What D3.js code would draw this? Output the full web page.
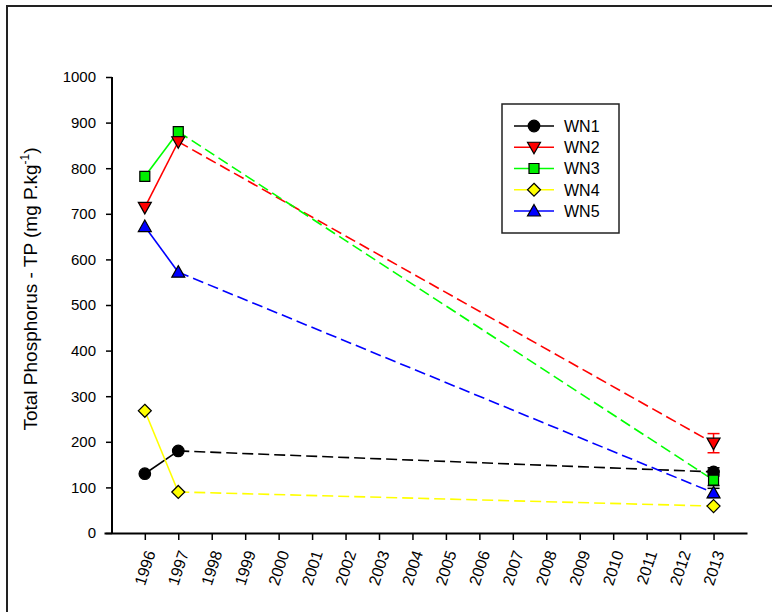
<!DOCTYPE html>
<html>
<head>
<meta charset="utf-8">
<script src="https://cdn.jsdelivr.net/npm/d3@7"></script>
<style>
  html, body { margin: 0; padding: 0; background: #fff; }
  svg { display: block; font-family: Arial, "Liberation Sans", sans-serif; }
</style>
</head>
<body>
<div id="chart"></div>
<script>
// values
const years = [1996, 1997, 2013];
const yearTicks = d3.range(1996, 2014);
const yTicks = [0, 100, 200, 300, 400, 500, 600, 700, 800, 900, 1000];

const seriesNames = ["WN1", "WN2", "WN3", "WN4", "WN5"];
const wn1 = [130, 180, 134];
const wn2 = [714, 858, 197];
const wn3 = [782, 880, 116];
const wn4 = [268, 90, 59];
const wn5 = [672, 572, 88];
// error only at 2013
const err2013 = [9, 21, 12, 0, 10];

const colors = {
  WN1: "#000000",
  WN2: "#ff0000",
  WN3: "#00ee00",
  WN4: "#ffff00",
  WN5: "#0000ff",
};
const lineColors = {
  WN1: "#000000",
  WN2: "#ff0000",
  WN3: "#00ff00",
  WN4: "#ffff00",
  WN5: "#0000ff",
};
const markers = {
  WN1: "circle",
  WN2: "triangleDown",
  WN3: "square",
  WN4: "diamond",
  WN5: "triangleUp",
};

const W = 772, H = 612;

const series = seriesNames.map((name, i) => ({
  name,
  values: [wn1, wn2, wn3, wn4, wn5][i].map((v, j) => ({ year: years[j], value: v })),
  err: err2013[i],
}));

const svg = d3.select("#chart").append("svg")
  .attr("width", W)
  .attr("height", H);

// outer frame (right/bottom edges fall outside the picture)
svg.append("rect")
  .attr("x", 7).attr("y", 6)
  .attr("width", W + 10).attr("height", H + 10)
  .attr("fill", "none")
  .attr("stroke", "#222")
  .attr("stroke-width", 2);

const x = d3.scaleLinear().domain([1994.78, 2014]).range([104, 747]);
const y = d3.scaleLinear().domain([0, 1000]).range([533, 77]);

function symbolPath(type) {
  switch (type) {
    case "circle": return d3.symbol(d3.symbolCircle, 105)();
    case "square": return "M-5,-5H5V5H-5Z";
    case "diamond": return "M0,-6.5L6.5,0L0,6.5L-6.5,0Z";
    case "triangleUp": return "M0,-6.5L6.5,5L-6.5,5Z";
    case "triangleDown": return "M0,6.5L6.5,-5L-6.5,-5Z";
  }
}

// axes
const yAxis = d3.axisLeft(y).tickValues(yTicks).tickFormat(d3.format("d"))
  .tickSize(6).tickSizeOuter(0).tickPadding(10);
const gy = svg.append("g").attr("transform", "translate(112,0)").call(yAxis);
gy.select(".domain").attr("stroke-width", 2).attr("d", `M0,${y(1000)}V${y(0) + 1}`);
gy.selectAll(".tick line").attr("stroke-width", 1.5);
gy.selectAll(".tick text").attr("font-size", 15).attr("fill", "#000");

const xAxis = d3.axisBottom(x).tickValues(yearTicks).tickFormat(d3.format("d"))
  .tickSize(7).tickSizeOuter(0);
const gx = svg.append("g").attr("transform", "translate(0,533)").call(xAxis);
gx.select(".domain").attr("stroke-width", 2);
gx.selectAll(".tick line").attr("stroke-width", 1.5);
gx.selectAll(".tick text")
  .attr("font-size", 16)
  .attr("fill", "#000")
  .attr("text-anchor", "end")
  .attr("x", 0).attr("y", 0).attr("dy", "0.35em")
  .attr("transform", "translate(5,18) rotate(-72)");

// y-axis title
const title = svg.append("text")
  .attr("transform", "translate(37,289) rotate(-90)")
  .attr("text-anchor", "middle")
  .attr("font-size", 19)
  .attr("fill", "#000");
title.append("tspan").text("Total Phosphorus - TP (mg P.kg");
title.append("tspan").attr("font-size", 12).attr("dy", -8).text("-1");
title.append("tspan").attr("dy", 8).text(")");

// lines: solid 1996-1997, dashed 1997-2013
const line = d3.line().x(d => x(d.year)).y(d => y(d.value));
const plot = svg.append("g");
series.forEach(s => {
  plot.append("path")
    .attr("d", line(s.values.slice(0, 2)))
    .attr("fill", "none")
    .attr("stroke", lineColors[s.name])
    .attr("stroke-width", 1.6);
  plot.append("path")
    .attr("d", line(s.values.slice(1)))
    .attr("fill", "none")
    .attr("stroke", lineColors[s.name])
    .attr("stroke-width", 1.6)
    .attr("stroke-dasharray", "11,5");
});

// error bars + markers
const drawOrder = ["WN1", "WN3", "WN2", "WN4", "WN5"];
drawOrder.forEach(name => {
  const s = series.find(d => d.name === name);
  const last = s.values[2];
  if (s.err > 0) {
    const eb = name === "WN2" ? lineColors.WN2 : "#000";
    const g = plot.append("g").attr("stroke", eb).attr("stroke-width", 1.5);
    const x0 = x(last.year);
    const yHi = y(last.value + s.err), yLo = y(last.value - s.err);
    g.append("line").attr("x1", x0).attr("x2", x0).attr("y1", yHi).attr("y2", yLo);
    g.append("line").attr("x1", x0 - 6).attr("x2", x0 + 6).attr("y1", yHi).attr("y2", yHi);
    g.append("line").attr("x1", x0 - 6).attr("x2", x0 + 6).attr("y1", yLo).attr("y2", yLo);
  }
  plot.selectAll(null)
    .data(s.values)
    .join("path")
    .attr("transform", d => `translate(${x(d.year)},${y(d.value)})`)
    .attr("d", symbolPath(markers[name]))
    .attr("fill", colors[name])
    .attr("stroke", "#000")
    .attr("stroke-width", 1.2);
});

// legend
const legend = svg.append("g");
legend.append("rect")
  .attr("x", 502).attr("y", 104)
  .attr("width", 117).attr("height", 129)
  .attr("fill", "#fff")
  .attr("stroke", "#222")
  .attr("stroke-width", 1.5);
const legendY = d3.scalePoint().domain(seriesNames).range([126, 211]);
seriesNames.forEach(name => {
  const ly = legendY(name);
  legend.append("line")
    .attr("x1", 514).attr("x2", 554)
    .attr("y1", ly).attr("y2", ly)
    .attr("stroke", lineColors[name])
    .attr("stroke-width", 1.6);
  legend.append("path")
    .attr("transform", `translate(534,${ly})`)
    .attr("d", symbolPath(markers[name]))
    .attr("fill", colors[name])
    .attr("stroke", "#000")
    .attr("stroke-width", 1.2);
  legend.append("text")
    .attr("x", 564).attr("y", ly).attr("dy", "0.36em")
    .attr("font-size", 16)
    .attr("fill", "#000")
    .text(name);
});
</script>
</body>
</html>
